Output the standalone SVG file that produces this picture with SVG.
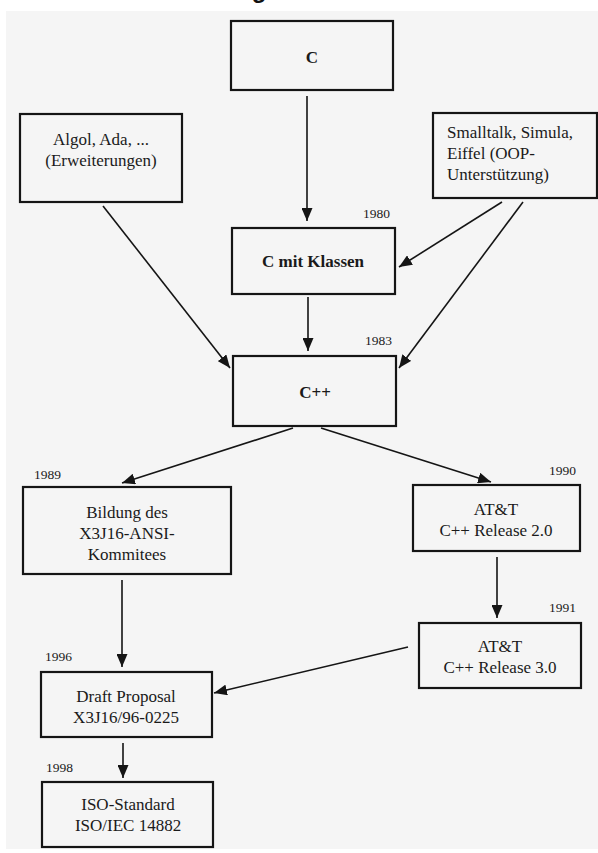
<svg xmlns="http://www.w3.org/2000/svg" width="598" height="853" viewBox="0 0 598 853">
<style>
.box{fill:#f5f5f5;stroke:#151515;stroke-width:2.2}
.t{font-family:"Liberation Serif","Times New Roman",serif;font-size:17px;fill:#1a1a1a;text-anchor:middle}
.tl{font-family:"Liberation Serif","Times New Roman",serif;font-size:17px;fill:#1a1a1a}
.b{font-weight:bold}
.y{font-family:"Liberation Serif","Times New Roman",serif;font-size:13.5px;fill:#1a1a1a}
.c{stroke:#151515;stroke-width:1.6;fill:none;marker-end:url(#ah)}
</style>
<defs>
<marker id="ah" markerUnits="userSpaceOnUse" markerWidth="14" markerHeight="11" refX="13" refY="5.5" orient="auto">
<path d="M0,0 L13,5.5 L0,11 z" fill="#151515"/>
</marker>
</defs>
<rect x="0" y="0" width="598" height="853" fill="#ffffff"/>
<rect x="6" y="11" width="592" height="838" fill="#f5f5f5"/>
<text x="259" y="-2" font-family="Liberation Sans, Arial, sans-serif" font-weight="bold" font-size="24" text-anchor="middle" fill="#111">g</text>

<g id="connectors">
<line class="c" x1="307" y1="96" x2="307" y2="221"/>
<line class="c" x1="502" y1="202" x2="399" y2="267"/>
<line class="c" x1="523" y1="202" x2="399" y2="368"/>
<line class="c" x1="103" y1="206" x2="230" y2="368"/>
<line class="c" x1="308" y1="297" x2="308" y2="351"/>
<line class="c" x1="293" y1="428" x2="122" y2="483"/>
<line class="c" x1="321" y1="428" x2="491" y2="482"/>
<line class="c" x1="497" y1="557" x2="497" y2="618"/>
<line class="c" x1="122" y1="580" x2="122" y2="667"/>
<line class="c" x1="408" y1="647" x2="214" y2="693"/>
<line class="c" x1="123" y1="743" x2="123" y2="778"/>
</g>

<g id="n-c">
<rect class="box" x="231" y="21" width="162" height="69"/>
<text class="t b" x="312" y="63" font-size="19">C</text>
</g>

<g id="n-algol">
<rect class="box" x="20" y="114" width="162" height="88"/>
<text class="t" x="101" y="145">Algol, Ada, ...</text>
<text class="t" x="101" y="166">(Erweiterungen)</text>
</g>

<g id="n-smalltalk">
<rect class="box" x="433" y="113" width="164" height="85"/>
<text class="tl" x="447" y="138">Smalltalk, Simula,</text>
<text class="tl" x="447" y="159">Eiffel (OOP-</text>
<text class="tl" x="447" y="180">Unterstützung)</text>
</g>

<g id="n-cmk">
<text class="y" x="363" y="218">1980</text>
<rect class="box" x="232" y="228" width="163" height="66"/>
<text class="t b" x="313" y="267">C mit Klassen</text>
</g>

<g id="n-cpp">
<text class="y" x="365" y="345">1983</text>
<rect class="box" x="233" y="356" width="163" height="70"/>
<text class="t b" x="315" y="398" font-size="19">C++</text>
</g>

<g id="n-bildung">
<text class="y" x="34" y="479">1989</text>
<rect class="box" x="23" y="487" width="208" height="87"/>
<text class="t" x="127" y="518">Bildung des</text>
<text class="t" x="127" y="539">X3J16-ANSI-</text>
<text class="t" x="127" y="560">Kommitees</text>
</g>

<g id="n-att2">
<text class="y" x="549" y="475">1990</text>
<rect class="box" x="413" y="485" width="167" height="66"/>
<text class="t" x="496" y="515">AT&amp;T</text>
<text class="t" x="496" y="536">C++ Release 2.0</text>
</g>

<g id="n-att3">
<text class="y" x="549" y="612">1991</text>
<rect class="box" x="419" y="623" width="162" height="65"/>
<text class="t" x="500" y="652">AT&amp;T</text>
<text class="t" x="500" y="673">C++ Release 3.0</text>
</g>

<g id="n-draft">
<text class="y" x="45" y="661">1996</text>
<rect class="box" x="41" y="672" width="171" height="65"/>
<text class="t" x="126" y="702">Draft Proposal</text>
<text class="t" x="126" y="723">X3J16/96-0225</text>
</g>

<g id="n-iso">
<text class="y" x="46" y="772">1998</text>
<rect class="box" x="42" y="782" width="171" height="65"/>
<text class="t" x="128" y="810">ISO-Standard</text>
<text class="t" x="128" y="831">ISO/IEC 14882</text>
</g>
</svg>
